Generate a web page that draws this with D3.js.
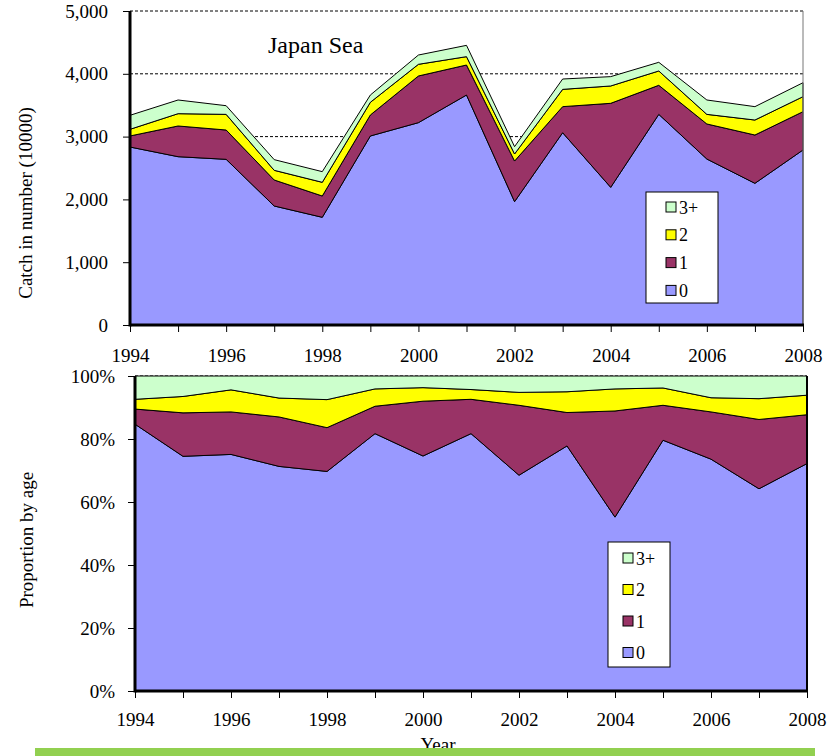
<!DOCTYPE html>
<html>
<head>
<meta charset="utf-8">
<script src="https://cdn.jsdelivr.net/npm/d3@7"></script>
<style>
  body { margin: 0; background: #fff; }
  svg text { font-family: "Liberation Serif", "Times New Roman", serif; fill: #000; }
</style>
</head>
<body>
<div id="chart"></div>
<script>
// years on the x axis
var years = [1994, 1995, 1996, 1997, 1998, 1999, 2000, 2001, 2002, 2003, 2004, 2005, 2006, 2007, 2008]
var yearLabels = [1994, 1996, 1998, 2000, 2002, 2004, 2006, 2008]

// catch in number (10000) by age
var catch0 = [2834, 2680, 2638, 1895, 1715, 3010, 3222, 3662, 1964, 3062, 2192, 3354, 2643, 2256, 2787]
var catch1 = [176, 489, 467, 414, 339, 334, 743, 478, 647, 415, 1338, 463, 558, 769, 610]
var catch2 = [106, 196, 249, 154, 218, 202, 186, 133, 112, 275, 276, 228, 153, 239, 239]
var catch3 = [223, 218, 138, 170, 170, 116, 148, 180, 117, 165, 149, 138, 229, 213, 222]

// proportion by age (%)
var prop0 = [84.7, 74.5, 75.1, 71.3, 69.7, 81.7, 74.6, 81.7, 68.5, 77.8, 55.2, 79.6, 73.6, 64.2, 72.2]
var prop1 = [4.8, 13.8, 13.5, 15.7, 13.9, 8.7, 17.4, 10.9, 22.2, 10.6, 33.7, 11.1, 15.0, 22.0, 15.5]
var prop2 = [3.1, 5.2, 7.0, 6.0, 8.9, 5.5, 4.3, 3.1, 4.1, 6.6, 7.0, 5.5, 4.5, 6.6, 6.2]
var prop3 = [7.4, 6.5, 4.4, 7.0, 7.5, 4.1, 3.7, 4.3, 5.2, 5.0, 4.1, 3.8, 6.9, 7.2, 6.1]

var ages = ["0", "1", "2", "3+"]
var ageColors = ["#9999ff", "#993366", "#ffff00", "#ccffcc"]

var catchTicks = [0, 1000, 2000, 3000, 4000, 5000]
var propTicks = [0, 20, 40, 60, 80, 100]

w = 837
h = 756

var svg = d3.select("#chart")
  .append("svg")
  .attr("width", w)
  .attr("height", h)

function rows(a, b, c, d) {
  return years.map(function (y, i) {
    return {year: y, "0": a[i], "1": b[i], "2": c[i], "3+": d[i]}
  })
}

function panel(opt) {
  var x = d3.scaleLinear().domain([1994, 2008]).range([opt.left, opt.right])
  var y = d3.scaleLinear().domain([0, opt.max]).range([opt.bottom, opt.top])
  var g = svg.append("g")

  // dashed gridlines (most end up under the areas)
  g.selectAll(".grid")
    .data(opt.ticks.slice(1))
    .enter()
    .append("line")
    .attr("x1", opt.left).attr("x2", opt.right)
    .attr("y1", function (d) { return y(d) }).attr("y2", function (d) { return y(d) })
    .style("stroke", "#000").style("stroke-width", 1)
    .style("stroke-dasharray", "3,2")

  var stack = d3.stack().keys(ages)
  var layers = stack(opt.data)
  var area = d3.area()
    .x(function (d) { return x(d.data.year) })
    .y0(function (d) { return y(d[0]) })
    .y1(function (d) { return y(d[1]) })

  g.selectAll(".layer")
    .data(layers)
    .enter()
    .append("path")
    .attr("d", area)
    .style("fill", function (d, i) { return ageColors[i] })
    .style("stroke", "#000")
    .style("stroke-width", 1)
    .style("stroke-linejoin", "round")

  // right edge
  g.append("line")
    .attr("x1", opt.right).attr("x2", opt.right)
    .attr("y1", opt.top).attr("y2", opt.bottom)
    .style("stroke", opt.rightColor).style("stroke-width", opt.rightWidth)

  // axes
  var xAxis = d3.axisBottom(x)
    .tickValues(years)
    .tickSize(7)
    .tickPadding(opt.xPad)
    .tickFormat(function (d) { return yearLabels.indexOf(d) >= 0 ? d : "" })
  var gx = g.append("g").attr("transform", "translate(0," + opt.bottom + ")").call(xAxis)

  var yAxis = d3.axisLeft(y)
    .tickValues(opt.ticks)
    .tickSize(7)
    .tickPadding(opt.yPad)
    .tickFormat(opt.fmt)
  var gy = g.append("g").attr("transform", "translate(" + opt.left + ",0)").call(yAxis)

  ;[gx, gy].forEach(function (a) {
    a.select(".domain").remove()
    a.selectAll("line").style("stroke", "#000").style("stroke-width", 1)
    a.selectAll("text").style("font-size", "19px").style("font-family", "'Liberation Serif', serif").attr("fill", "#000")
  })

  // heavy left and bottom axis lines
  g.append("line")
    .attr("x1", opt.left).attr("x2", opt.left)
    .attr("y1", opt.top).attr("y2", opt.bottom + 1.5)
    .style("stroke", "#000").style("stroke-width", 3)
  g.append("line")
    .attr("x1", opt.left).attr("x2", opt.right + 1)
    .attr("y1", opt.bottom).attr("y2", opt.bottom)
    .style("stroke", "#000").style("stroke-width", 3)

  // axis title
  g.append("text")
    .attr("transform", "translate(" + opt.titleX + "," + opt.titleY + ") rotate(-90)")
    .attr("text-anchor", "middle")
    .style("font-size", "19px")
    .text(opt.title)

  // legend
  var lg = g.append("g")
  lg.append("rect")
    .attr("x", opt.legX).attr("y", opt.legY)
    .attr("width", opt.legW).attr("height", opt.legH)
    .style("fill", "#fff").style("stroke", "#000").style("stroke-width", 1)
  var order = [3, 2, 1, 0]
  var item = lg.selectAll(".item")
    .data(order)
    .enter()
    .append("g")
    .attr("transform", function (d, i) {
      return "translate(" + (opt.legX + opt.swX) + "," + (opt.legY + opt.legRow0 + i * opt.legStep) + ")"
    })
  item.append("rect")
    .attr("x", 0).attr("y", -5)
    .attr("width", 10).attr("height", 10)
    .style("fill", function (d) { return ageColors[d] })
    .style("stroke", "#000").style("stroke-width", 1)
  item.append("text")
    .attr("x", 13).attr("y", 6.5)
    .style("font-size", "18px")
    .text(function (d) { return ages[d] })
}

panel({
  data: rows(catch0, catch1, catch2, catch3),
  max: 5000, ticks: catchTicks, fmt: d3.format(","),
  left: 130, right: 803, top: 11, bottom: 325,
  xPad: 17, yPad: 15,
  rightColor: "#777", rightWidth: 1,
  title: "Catch in number (10000)", titleX: 32, titleY: 203,
  legX: 646, legY: 192, legW: 72, legH: 111, swX: 20, legRow0: 15, legStep: 27.8
})

panel({
  data: rows(prop0, prop1, prop2, prop3),
  max: 100, ticks: propTicks, fmt: function (d) { return d + "%" },
  left: 135, right: 807, top: 376, bottom: 691,
  xPad: 15, yPad: 13,
  rightColor: "#000", rightWidth: 2,
  title: "Proportion by age", titleX: 33, titleY: 540,
  legX: 608, legY: 542, legW: 62, legH: 125, swX: 15, legRow0: 16, legStep: 31.5
})

// x axis title, partly hidden by the bar below it
svg.append("text")
  .attr("x", 438).attr("y", 751)
  .attr("text-anchor", "middle")
  .style("font-size", "19px")
  .text("Year")

svg.append("rect")
  .attr("x", 35).attr("y", 748)
  .attr("width", 780).attr("height", 8)
  .style("fill", "#92d050")

// panel title
svg.append("text")
  .attr("x", 268).attr("y", 53)
  .style("font-size", "24px")
  .text("Japan Sea")
</script>
</body>
</html>
